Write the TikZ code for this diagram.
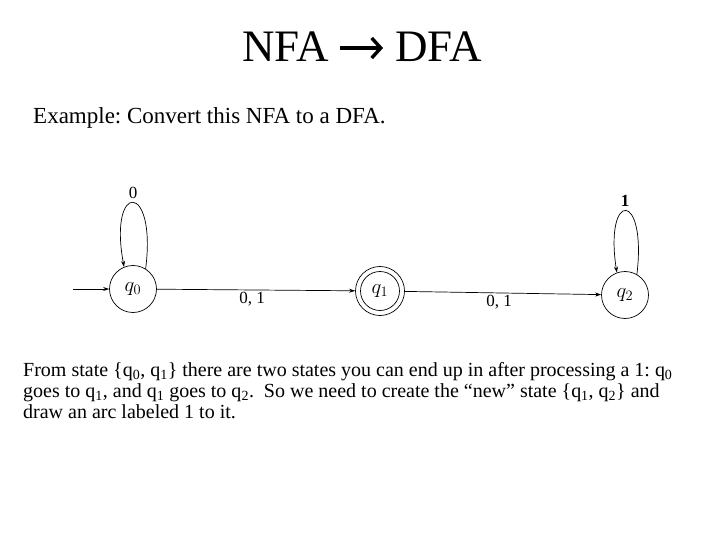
\documentclass[tikz,border=0pt]{standalone}
\usepackage{fontspec}
\setmainfont{Liberation Serif}
\usetikzlibrary{arrows.meta}
\tikzset{
  state/.style={draw, circle, line width=0.7pt, minimum size=47pt, inner sep=0pt, font=\fontsize{20}{20}\selectfont},
  edge/.style={line width=0.7pt, -{Stealth[length=6pt,width=4pt]}},
  elabel/.style={font=\fontsize{17}{17}\selectfont, inner sep=1pt},
  bodyline/.style={anchor=base west, inner sep=0pt, font=\fontsize{20}{20}\selectfont},
  titletext/.style={anchor=base west, inner sep=0pt, font=\fontsize{45}{45}\selectfont},
}
\begin{document}
\frenchspacing
\begin{tikzpicture}[x=1pt, y=-1pt]
\useasboundingbox (0,0) rectangle (720,540);
\fill[white] (0,0) rectangle (720,540);
% title
\node[titletext] (tnfa) at (242,62) {NFA};
\node[titletext] (tdfa) at (395,62) {DFA};
\coordinate (ta) at (340,48);
\coordinate (tb) at (383,48);
\draw[line width=3.4pt, -{Straight Barb[length=9pt,width=20pt,line width=3.4pt]}] (ta) -- (tb);
\node[anchor=base west, inner sep=0pt, font=\fontsize{23}{23}\selectfont] (sub) at (33,124) {Example: Convert this NFA to a DFA.};
% automaton
\node[state] (q0) at (133,289) {$q_0$};
\node[state, minimum size=49pt] (q1) at (380,291) {$q_1$};
\draw[line width=0.7pt] (q1.center) circle (19.5pt);
\node[state] (q2) at (625,295) {$q_2$};
\coordinate (start) at (73,289);
\draw[edge] (start) -- (q0);
\draw[edge] (q0) -- node[elabel, below=1pt, pos=0.48] (l01) {0, 1} (q1);
\draw[edge] (q1) -- node[elabel, below=1pt, pos=0.48] (l12) {0, 1} (q2);
\draw[edge] (q0.58) .. controls (157,181) and (108,181) .. (q0.112);
\node[elabel] (lab0) at (133,193) {0};
\draw[edge] (q2.60) .. controls (647,190) and (604,190) .. (q2.110);
\node[elabel] (lab1) at (625,201) {\textbf{1}};
% body text
\node[bodyline] (b1) at (23,376) {From state \{q\textsubscript{0}, q\textsubscript{1}\} there are two states you can end up in after processing a 1: q\textsubscript{0}};
\node[bodyline] (b2) at (23,397) {goes to q\textsubscript{1}, and q\textsubscript{1} goes to q\textsubscript{2}.\ \ So we need to create the “new” state \{q\textsubscript{1}, q\textsubscript{2}\} and};
\node[bodyline] (b3) at (23,418) {draw an arc labeled 1 to it.};
\end{tikzpicture}
\end{document}
